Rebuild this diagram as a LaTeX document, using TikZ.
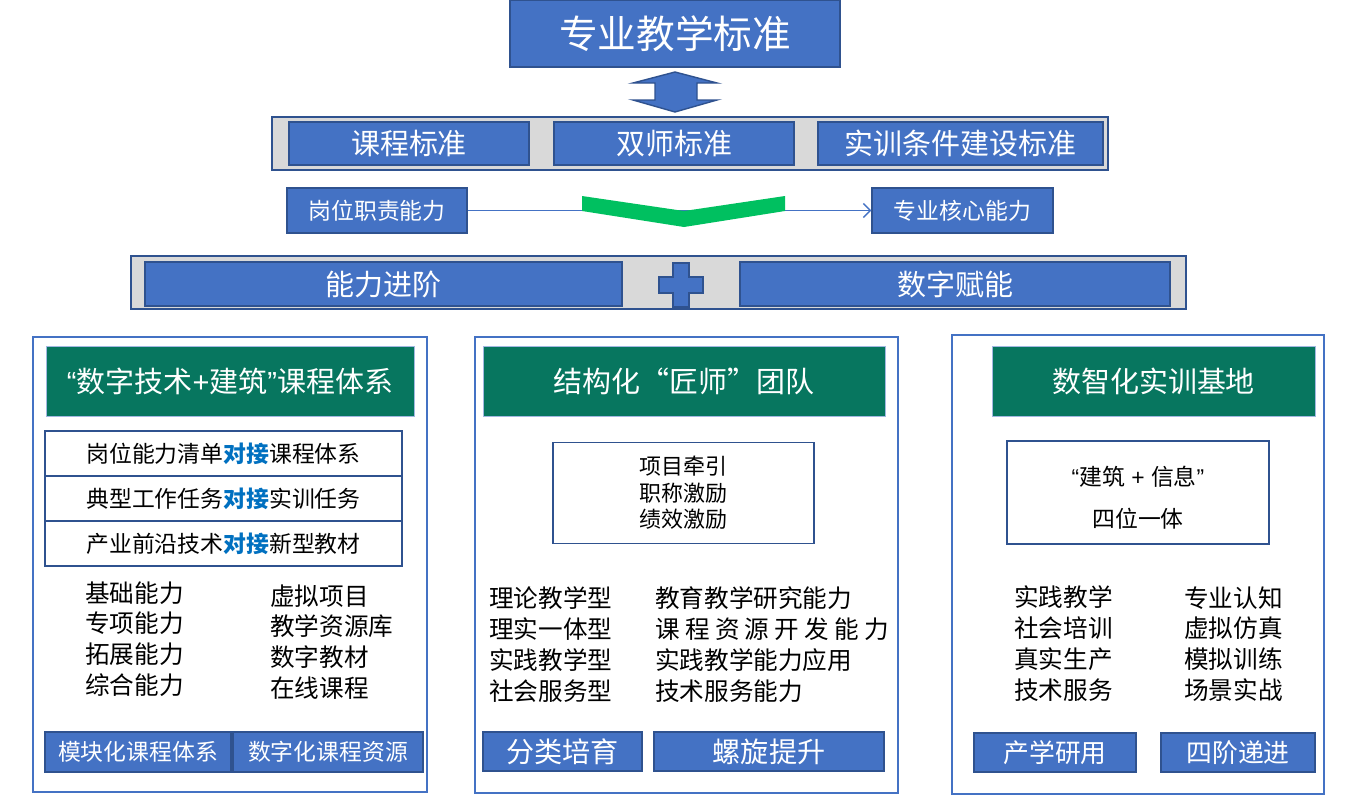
\documentclass[tikz,border=0pt]{standalone}
\usepackage{fontspec}
\setmainfont{Noto Sans CJK SC}
\newfontfamily\latfont{Liberation Sans}
\usepackage{tikz}
\usetikzlibrary{arrows.meta}
\definecolor{boxblue}{HTML}{4472C4}
\definecolor{lineblue}{HTML}{2F528F}
\definecolor{bandgray}{HTML}{D9D9D9}
\definecolor{headgreen}{HTML}{07765F}
\definecolor{chevgreen}{HTML}{00C060}
\definecolor{keyblue}{HTML}{0070C0}

\begin{document}
\begin{tikzpicture}[x=0.02cm,y=-0.02cm]
      \newcommand{\fs}[2]{\fontsize{#1}{#2}\selectfont}
      \newcommand{\duijie}{\textbf{\textcolor{keyblue}{对接}}}
      \tikzstyle{bluebox}  = [draw=lineblue,fill=boxblue,text=white,line width=0.8pt,inner sep=0pt]
      \tikzstyle{band}     = [draw=lineblue,fill=bandgray,line width=1pt,inner sep=0pt]
      \tikzstyle{panel}    = [draw=boxblue,line width=1pt,inner sep=0pt]
      \tikzstyle{header}   = [draw=boxblue!50,fill=headgreen,text=white,inner sep=0pt,font=\fs{16.5}{20}]
      \tikzstyle{row}      = [draw=lineblue,fill=white,line width=0.8pt,inner sep=0pt,
                              minimum width=7.14cm,minimum height=0.9cm,font=\fs{13}{16}]
      \tikzstyle{whitebox} = [draw=lineblue,line width=1pt,inner sep=0pt,align=center]
      \tikzstyle{list}     = [anchor=north west,align=left,inner sep=0pt,font=\fs{14}{17.6}]
      \tikzstyle{conn}     = [draw=boxblue,line width=0.8pt,-{Straight Barb[length=4pt,width=8pt]}]

      \useasboundingbox (0,0) rectangle (1351,805);

      \node[bluebox,minimum width=6.6cm,minimum height=1.34cm,font=\fs{22}{26}] (std) at (675,33.5) {专业教学标准};

      \draw[fill=boxblue,draw=lineblue,line width=0.8pt]
        (633,83) -- (675,72) -- (717,83) -- (697,83) -- (697,100) -- (717,100) -- (675,112)
        -- (633,100) -- (655,100) -- (655,83) -- cycle;

      \node[band,minimum width=16.72cm,minimum height=1.06cm] (band1) at (690,143.5) {};
      \node[bluebox,minimum width=4.8cm,minimum height=0.86cm,font=\fs{16.5}{20}] (kc) at (409,143.5) {课程标准};
      \node[bluebox,minimum width=4.8cm,minimum height=0.86cm,font=\fs{16.5}{20}] (ss) at (674,143.5) {双师标准};
      \node[bluebox,minimum width=5.7cm,minimum height=0.86cm,font=\fs{16.5}{20}] (sx) at (960.5,143.5) {实训条件建设标准};

      \node[bluebox,minimum width=3.6cm,minimum height=0.9cm,font=\fs{13}{16}] (gw) at (377,210.5) {岗位职责能力};
      \node[bluebox,minimum width=3.62cm,minimum height=0.9cm,font=\fs{13}{16}] (hx) at (962.5,210.5) {专业核心能力};
      \draw[conn] (gw) -- (hx);
      \fill[chevgreen] (582,196) -- (684,211) -- (785,196) -- (785,211) -- (684,227) -- (582,211) -- cycle;

      \node[band,minimum width=21.1cm,minimum height=1.06cm] (band2) at (658.5,282.5) {};
      \node[bluebox,minimum width=9.54cm,minimum height=0.88cm,font=\fs{16.5}{20}] (nl) at (383.5,284) {能力进阶};
      \node[bluebox,minimum width=8.6cm,minimum height=0.88cm,font=\fs{16.5}{20}] (sz) at (955,284) {数字赋能};
      \draw[fill=boxblue,draw=lineblue,line width=0.8pt]
        (673,263) -- (689,263) -- (689,277) -- (703,277) -- (703,293) -- (689,293) -- (689,307)
        -- (673,307) -- (673,293) -- (659,293) -- (659,277) -- (673,277) -- cycle;

      \node[panel,minimum width=7.88cm,minimum height=9.1cm] (p1) at (230,564.5) {};
      \node[panel,minimum width=8.46cm,minimum height=9.12cm] (p2) at (686.5,565) {};
      \node[panel,minimum width=7.44cm,minimum height=9.18cm] (p3) at (1138,564.5) {};

      \node[header,minimum width=7.36cm,minimum height=1.4cm] (h1) at (230,381)
        {{\latfont“}数字技术{\latfont+}建筑{\latfont”}课程体系};
      \node[header,minimum width=8.04cm,minimum height=1.4cm] (h2) at (684,381) {结构化“匠师”团队};
      \node[header,minimum width=6.46cm,minimum height=1.4cm] (h3) at (1153.5,381) {数智化实训基地};

      \node[row] (r1) at (223.5,453.5) {岗位能力清单\duijie 课程体系};
      \node[row] (r2) at (223.5,498.5) {典型工作任务\duijie 实训任务};
      \node[row] (r3) at (223.5,543.5) {产业前沿技术\duijie 新型教材};

      \node[list] (l1a) at (85,581) {基础能力\\专项能力\\拓展能力\\综合能力};
      \node[list] (l1b) at (270,584) {虚拟项目\\教学资源库\\数字教材\\在线课程};

      \node[bluebox,minimum width=3.72cm,minimum height=0.8cm,font=\fs{13}{16}] (m1) at (138,752) {模块化课程体系};
      \node[bluebox,minimum width=3.8cm,minimum height=0.8cm,font=\fs{13}{16}] (m2) at (328,752) {数字化课程资源};

      \node[whitebox,minimum width=5.22cm,minimum height=2.02cm,font=\fs{12.5}{15}] (wb2) at (683.5,493)
        {项目牵引\\职称激励\\绩效激励};
      \node[list] (l2a) at (489,586) {理论教学型\\理实一体型\\实践教学型\\社会服务型};
      \node[list] (l2b) at (655,586) {教育教学研究能力\\课\kern3pt 程\kern3pt 资\kern3pt 源\kern3pt 开\kern3pt 发\kern3pt 能\kern3pt 力\\实践教学能力应用\\技术服务能力};
      \node[bluebox,minimum width=3.18cm,minimum height=0.78cm,font=\fs{16}{20}] (f1) at (562.5,751.5) {分类培育};
      \node[bluebox,minimum width=4.6cm,minimum height=0.78cm,font=\fs{16}{20}] (f2) at (769,751.5) {螺旋提升};

      \node[whitebox,minimum width=5.24cm,minimum height=2.06cm] (wb3) at (1138,492.5) {};
      \node[align=center,inner sep=0pt,font=\fs{13}{24}] (wb3t) at (1138,498)
        {{\latfont“}建筑{\latfont\ + }信息{\latfont”}\\四位一体};
      \node[list] (l3a) at (1014,585) {实践教学\\社会培训\\真实生产\\技术服务};
      \node[list] (l3b) at (1184,586) {专业认知\\虚拟仿真\\模拟训练\\场景实战};
      \node[bluebox,minimum width=3.24cm,minimum height=0.78cm,font=\fs{14.7}{18}] (c1) at (1055,752.5) {产学研用};
      \node[bluebox,minimum width=3.08cm,minimum height=0.78cm,font=\fs{14.7}{18}] (c2) at (1238,752.5) {四阶递进};
    \end{tikzpicture}
\end{document}
